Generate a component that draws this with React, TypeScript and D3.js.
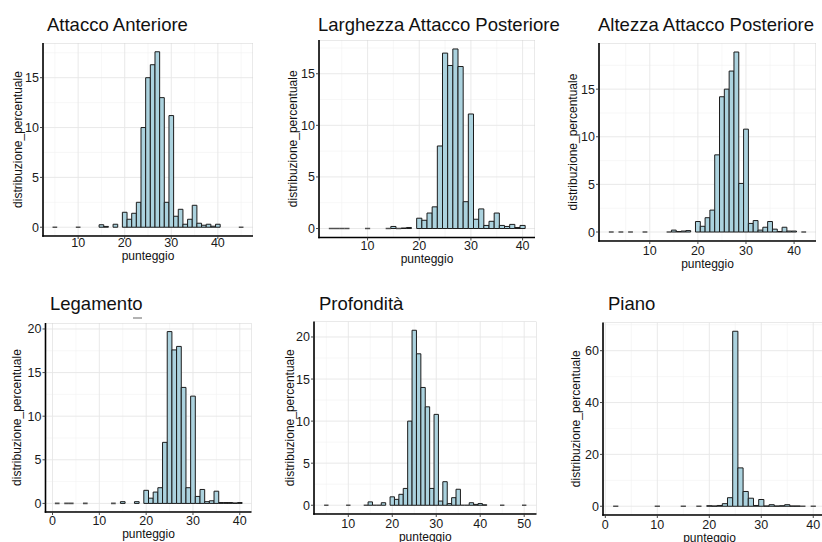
import * as d3 from "d3";

// punteggio -> distribuzione percentuale
const attaccoAnteriore: [number, number][] = [
  [5, 0], [10, 0], [15, 0.25], [16, 0.08], [18, 0.3], [20, 1.5], [21, 0.8], [22, 1.4],
  [23, 2.5], [24, 10.0], [25, 15.0], [26, 16.3], [27, 17.6], [28, 13.0], [29, 2.5],
  [30, 11.2], [31, 1.1], [32, 1.8], [33, 0.3], [34, 0.8], [35, 2.2], [36, 0.4],
  [37, 0.2], [38, 0.3], [39, 0.1], [40, 0.3], [45, 0],
];

const larghezzaPosteriore: [number, number][] = [
  [3, 0], [4, 0], [5, 0], [6, 0], [10, 0], [14, 0], [15, 0.2], [16, 0], [17, 0.05],
  [18, 0.1], [20, 1.0], [21, 0.8], [22, 1.5], [23, 2.1], [24, 8.0], [25, 17.0],
  [26, 15.8], [27, 17.4], [28, 15.7], [29, 2.6], [30, 11.1], [31, 0.9], [32, 1.9],
  [33, 0.3], [34, 0.7], [35, 1.5], [36, 0.3], [37, 0.2], [38, 0.4], [39, 0.1], [40, 0.3],
];

const altezzaPosteriore: [number, number][] = [
  [2, 0], [4, 0], [6, 0], [9, 0], [14, 0], [15, 0.2], [16, 0.05], [17, 0.1], [18, 0.15],
  [20, 1.1], [21, 0.6], [22, 1.5], [23, 2.3], [24, 8.1], [25, 14.2], [26, 15.0],
  [27, 16.9], [28, 18.9], [29, 5.1], [30, 10.8], [31, 0.9], [32, 1.2], [33, 0.2],
  [34, 0.5], [35, 1.1], [36, 0.3], [37, 0.05], [38, 0.5], [39, 0.1], [40, 0.1], [42, 0],
];

const legamento: [number, number][] = [
  [1, 0], [3, 0], [4, 0], [7, 0], [13, 0], [15, 0.2], [18, 0.2], [20, 1.5], [21, 0.6],
  [22, 1.3], [23, 1.8], [24, 7.0], [25, 19.7], [26, 17.6], [27, 18.0], [28, 13.3],
  [29, 1.8], [30, 12.3], [31, 0.8], [32, 1.6], [33, 0.2], [34, 0.3], [35, 1.4],
  [36, 0.1], [37, 0.1], [38, 0.1], [39, 0.05], [40, 0.1],
];

const profondita: [number, number][] = [
  [5, 0], [10, 0], [14, 0], [15, 0.4], [16, 0], [17, 0], [18, 0.3], [20, 1.0], [21, 0.7],
  [22, 1.3], [23, 2.0], [24, 10.0], [25, 20.8], [26, 18.0], [27, 14.0], [28, 11.7],
  [29, 2.0], [30, 10.8], [31, 0.5], [32, 2.8], [33, 0.2], [34, 0.9], [35, 1.9],
  [36, 0], [37, 0], [38, 0.3], [39, 0.1], [40, 0.2], [41, 0.05], [45, 0], [50, 0],
];

const piano: [number, number][] = [
  [2, 0], [10, 0], [15, 0], [18, 0], [20, 0.2], [21, 0.1], [22, 0.3], [23, 1.0],
  [24, 3.3], [25, 67.5], [26, 14.8], [27, 5.7], [28, 3.1], [29, 0.3], [30, 2.6],
  [31, 0.1], [32, 0.6], [33, 0.1], [34, 0.2], [35, 0.6], [36, 0.1], [37, 0.1],
  [38, 0], [40, 0],
];

const titles = [
  "Attacco Anteriore",
  "Larghezza Attacco Posteriore",
  "Altezza Attacco Posteriore",
  "Legamento",
  "Profondità",
  "Piano",
];
const series = [attaccoAnteriore, larghezzaPosteriore, altezzaPosteriore, legamento, profondita, piano];

const xTicks = [
  [10, 20, 30, 40],
  [10, 20, 30, 40],
  [10, 20, 30, 40],
  [0, 10, 20, 30, 40],
  [10, 20, 30, 40, 50],
  [0, 10, 20, 30, 40],
];
const yTicks = [
  [0, 5, 10, 15],
  [0, 5, 10, 15],
  [0, 5, 10, 15],
  [0, 5, 10, 15, 20],
  [0, 5, 10, 15, 20],
  [0, 20, 40, 60],
];

// panel boxes, measured on the composite picture
const layout = [
  { l: 43, t: 43, r: 253, b: 236, tx: 47, ty: 31, yl: 18, tk: 11, xt: 23.5 },
  { l: 319, t: 40, r: 535, b: 237.5, tx: 318, ty: 31, yl: 293, tk: 12.5, xt: 25.5 },
  { l: 599, t: 43, r: 816, b: 241, tx: 598, ty: 31, yl: 573, tk: 14, xt: 26.5 },
  { l: 45.5, t: 323, r: 251.5, b: 512, tx: 50, ty: 310, yl: 17, tk: 13, xt: 25.5 },
  { l: 314, t: 321.5, r: 536.5, b: 514, tx: 319, ty: 310, yl: 290, tk: 14, xt: 27 },
  { l: 603, t: 322.5, r: 826, b: 515, tx: 608, ty: 310, yl: 576, tk: 13.5, xt: 27 },
];

const font = "'Liberation Sans', Arial, Helvetica, sans-serif";
const barFill = "#abd2de";

function expand(lo: number, hi: number): [number, number] {
  const pad = (hi - lo) * 0.05;
  return [lo - pad, hi + pad];
}

function minors(ticks: number[], domain: [number, number]) {
  const step = ticks[1] - ticks[0];
  const out: number[] = [];
  for (let v = ticks[0] - step / 2; v <= domain[1]; v += step) {
    if (v >= domain[0]) out.push(v);
  }
  return out;
}

function Panel({ idx }: { idx: number }) {
  const data = series[idx];
  const box = layout[idx];
  const xExt = d3.extent(data, (d) => d[0]) as [number, number];
  const xDomain = expand(xExt[0] - 0.5, xExt[1] + 0.5);
  const yDomain = expand(0, d3.max(data, (d) => d[1]) as number);
  const x = d3.scaleLinear().domain(xDomain).range([box.l, box.r]);
  const y = d3.scaleLinear().domain(yDomain).range([box.b, box.t]);
  const xt = xTicks[idx];
  const yt = yTicks[idx];
  const clipId = `clip${idx}`;

  return (
    <g>
      <clipPath id={clipId}>
        <rect x={box.l} y={box.t} width={box.r - box.l} height={box.b - box.t} />
      </clipPath>
      <g clipPath={`url(#${clipId})`}>
        {minors(xt, xDomain).map((v) => (
          <line key={`mx${v}`} x1={x(v)} x2={x(v)} y1={box.t} y2={box.b} stroke="#f2f2f2" strokeWidth={0.6} />
        ))}
        {minors(yt, yDomain).map((v) => (
          <line key={`my${v}`} x1={box.l} x2={box.r} y1={y(v)} y2={y(v)} stroke="#f2f2f2" strokeWidth={0.6} />
        ))}
        {xt.map((v) => (
          <line key={`gx${v}`} x1={x(v)} x2={x(v)} y1={box.t} y2={box.b} stroke="#e6e6e6" strokeWidth={0.9} />
        ))}
        {yt.map((v) => (
          <line key={`gy${v}`} x1={box.l} x2={box.r} y1={y(v)} y2={y(v)} stroke="#e6e6e6" strokeWidth={0.9} />
        ))}
        <rect x={box.l} y={box.t} width={box.r - box.l} height={box.b - box.t} fill="none" stroke="#d4d4d4" strokeWidth={1} />
        {data.map(([s, v]) => {
          const x0 = x(s - 0.5);
          const x1 = x(s + 0.5);
          const y0 = y(0);
          const y1 = y(v);
          return (
            <path
              key={s}
              d={`M${x0},${y0}V${y1}H${x1}V${y0}Z`}
              fill={barFill}
              stroke="#1c1c1c"
              strokeWidth={v === 0 ? 1.6 : 1}
              strokeOpacity={v === 0 ? 0.75 : 1}
            />
          );
        })}
      </g>
      {/* axes */}
      <line x1={box.l} x2={box.l} y1={box.t} y2={box.b + 0.75} stroke="#000" strokeWidth={1.6} />
      <line x1={box.l - 0.75} x2={Math.min(box.r, 822)} y1={box.b} y2={box.b} stroke="#000" strokeWidth={1.6} />
      {yt.map((v) => (
        <g key={`yt${v}`}>
          <line x1={box.l - 3} x2={box.l} y1={y(v)} y2={y(v)} stroke="#333" strokeWidth={0.9} />
          <text x={box.l - 4} y={y(v)} dy="0.36em" textAnchor="end" fontSize={12.5} fill="#1a1a1a">
            {v}
          </text>
        </g>
      ))}
      {xt.map((v) => (
        <g key={`xt${v}`}>
          <line x1={x(v)} x2={x(v)} y1={box.b} y2={box.b + 3} stroke="#333" strokeWidth={0.9} />
          <text x={x(v)} y={box.b + box.tk} textAnchor="middle" fontSize={12.5} fill="#1a1a1a">
            {v}
          </text>
        </g>
      ))}
      <text
        x={(box.l + Math.min(box.r, 816)) / 2}
        y={box.b + box.xt}
        textAnchor="middle"
        fontSize={12}
        fill="#111"
      >
        punteggio
      </text>
      <text
        transform={`translate(${box.yl},${(box.t + box.b) / 2}) rotate(-90)`}
        dy="0.36em"
        textAnchor="middle"
        fontSize={12}
        fill="#111"
      >
        distribuzione_percentuale
      </text>
      <text x={box.tx} y={box.ty} fontSize={18.5} fill="#111">
        {titles[idx]}
      </text>
    </g>
  );
}

export default function App() {
  return (
    <div style={{ position: "absolute", left: 0, top: 0 }}>
      <svg width={822} height={542} style={{ display: "block", background: "#fff", fontFamily: font }}>
        <rect width={822} height={542} fill="#fff" />
        {titles.map((_, i) => (
          <Panel key={i} idx={i} />
        ))}
        {/* small stray mark under "Legamento" in the original */}
        <line x1={133} x2={142} y1={318} y2={318} stroke="#666" strokeWidth={1} />
      </svg>
    </div>
  );
}
